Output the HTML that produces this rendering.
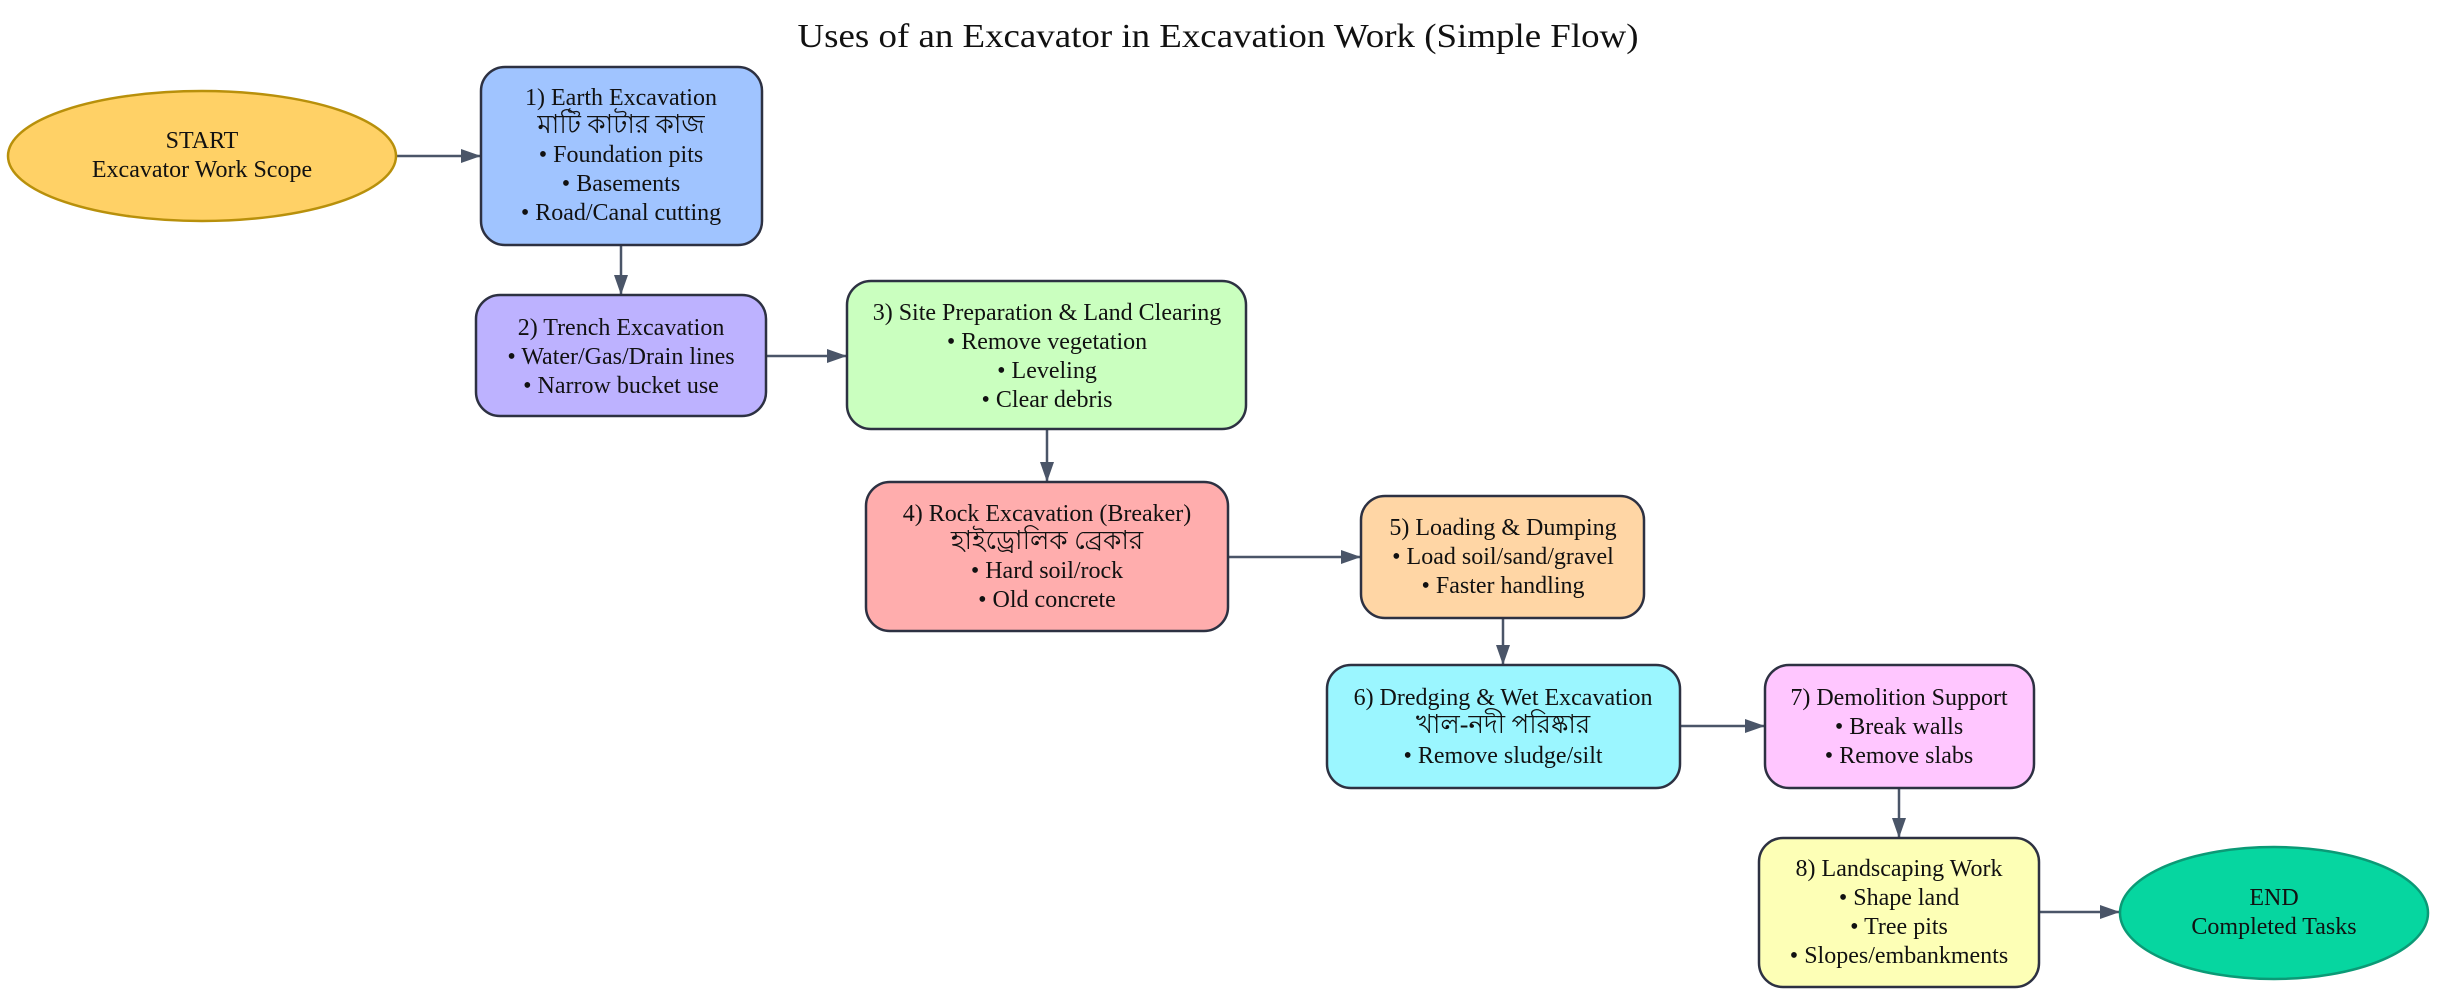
<!DOCTYPE html>
<html><head><meta charset="utf-8"><style>
html,body{margin:0;padding:0;background:#fff;}
svg text{font-family:"Liberation Serif","Noto Serif CJK SC",serif;fill:#111;}
</style></head><body>
<svg width="2437" height="996" viewBox="0 0 2437 996" xmlns="http://www.w3.org/2000/svg">
<defs>
<marker id="a" markerWidth="20" markerHeight="14" refX="20" refY="7" orient="auto" markerUnits="userSpaceOnUse">
<path d="M0,0 L20,7 L0,14 Z" fill="#4a5568"/>
</marker>
</defs>
<text x="1218" y="47" font-size="34" text-anchor="middle" textLength="841" lengthAdjust="spacingAndGlyphs">Uses of an Excavator in Excavation Work (Simple Flow)</text>

<g stroke="#4a5568" stroke-width="2.5" fill="none" marker-end="url(#a)">
<line x1="396" y1="156" x2="481" y2="156"/>
<line x1="621" y1="246" x2="621" y2="295"/>
<line x1="766" y1="356" x2="847" y2="356"/>
<line x1="1047" y1="429" x2="1047" y2="482"/>
<line x1="1228" y1="557" x2="1361" y2="557"/>
<line x1="1503" y1="618" x2="1503" y2="665"/>
<line x1="1680" y1="726" x2="1765" y2="726"/>
<line x1="1899" y1="788" x2="1899" y2="838"/>
<line x1="2039" y1="912" x2="2120" y2="912"/>
</g>

<ellipse cx="202" cy="156" rx="194" ry="65" fill="#FFD166" stroke="#B8900B" stroke-width="2.5"/>
<ellipse cx="2274" cy="913" rx="154" ry="66" fill="#06D6A0" stroke="#0B9A76" stroke-width="2.5"/>

<g stroke="#2d3142" stroke-width="2.5">
<rect x="481" y="67" width="281" height="178" rx="24" fill="#A0C4FF"/>
<rect x="476" y="295" width="290" height="121" rx="24" fill="#BDB2FF"/>
<rect x="847" y="281" width="399" height="148" rx="24" fill="#CAFFBF"/>
<rect x="866" y="482" width="362" height="149" rx="24" fill="#FFADAD"/>
<rect x="1361" y="496" width="283" height="122" rx="24" fill="#FFD6A5"/>
<rect x="1327" y="665" width="353" height="123" rx="24" fill="#9BF6FF"/>
<rect x="1765" y="665" width="269" height="123" rx="24" fill="#FFC6FF"/>
<rect x="1759" y="838" width="280" height="149" rx="24" fill="#FDFFB6"/>
</g>

<g font-size="24" text-anchor="middle">
<text x="202" y="148">START</text>
<text x="202" y="177">Excavator Work Scope</text>

<text x="621" y="105">1) Earth Excavation</text>
<text x="621" y="133" font-size="26">মাটি কাটার কাজ</text>
<text x="621" y="162">• Foundation pits</text>
<text x="621" y="191">• Basements</text>
<text x="621" y="220">• Road/Canal cutting</text>

<text x="621" y="335">2) Trench Excavation</text>
<text x="621" y="364">• Water/Gas/Drain lines</text>
<text x="621" y="393">• Narrow bucket use</text>

<text x="1047" y="320">3) Site Preparation &amp; Land Clearing</text>
<text x="1047" y="349">• Remove vegetation</text>
<text x="1047" y="378">• Leveling</text>
<text x="1047" y="407">• Clear debris</text>

<text x="1047" y="521">4) Rock Excavation (Breaker)</text>
<text x="1047" y="549" font-size="26">হাইড্রোলিক ব্রেকার</text>
<text x="1047" y="578">• Hard soil/rock</text>
<text x="1047" y="607">• Old concrete</text>

<text x="1503" y="535">5) Loading &amp; Dumping</text>
<text x="1503" y="564">• Load soil/sand/gravel</text>
<text x="1503" y="593">• Faster handling</text>

<text x="1503" y="705">6) Dredging &amp; Wet Excavation</text>
<text x="1503" y="733" font-size="26">খাল-নদী পরিষ্কার</text>
<text x="1503" y="763">• Remove sludge/silt</text>

<text x="1899" y="705">7) Demolition Support</text>
<text x="1899" y="734">• Break walls</text>
<text x="1899" y="763">• Remove slabs</text>

<text x="1899" y="876">8) Landscaping Work</text>
<text x="1899" y="905">• Shape land</text>
<text x="1899" y="934">• Tree pits</text>
<text x="1899" y="963">• Slopes/embankments</text>

<text x="2274" y="905">END</text>
<text x="2274" y="934">Completed Tasks</text>
</g>
</svg>
</body></html>
